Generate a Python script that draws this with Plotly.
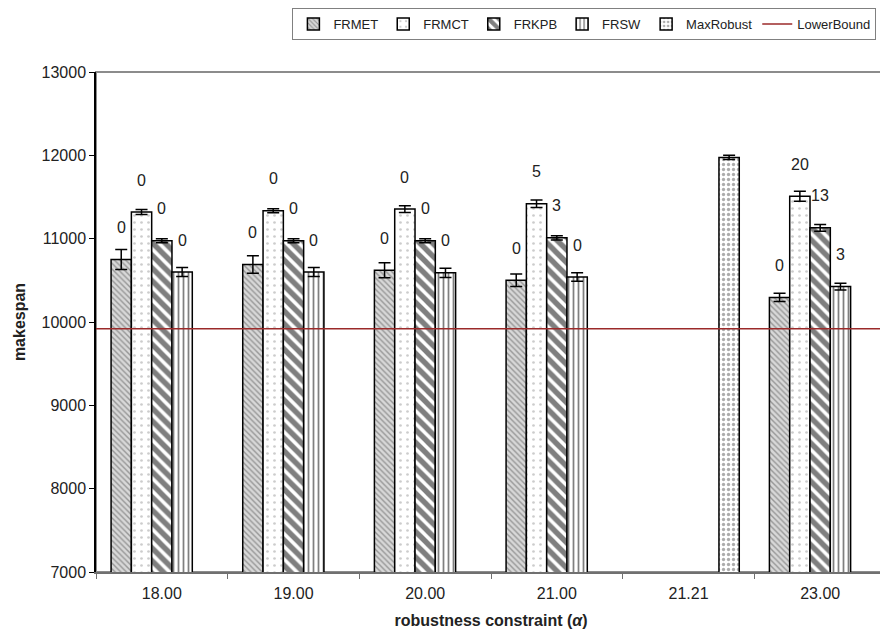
import plotly.graph_objects as go

categories = ["18.00", "19.00", "20.00", "21.00", "21.21", "23.00"]

frmet = [10750, 10690, 10620, 10500, None, 10295]
frmet_err = [120, 105, 90, 75, None, 50]
frmct = [11320, 11335, 11355, 11420, None, 11510]
frmct_err = [30, 25, 40, 45, None, 60]
frkpb = [10975, 10975, 10975, 11010, None, 11130]
frkpb_err = [25, 25, 25, 25, None, 40]
frsw = [10600, 10600, 10590, 10540, None, 10425]
frsw_err = [55, 55, 55, 50, None, 40]
maxrobust = [None, None, None, None, 11975, None]
maxrobust_err = [None, None, None, None, 25, None]

lower_bound = 9920

frmet_labels = ["0", "0", "0", "0", None, "0"]
frmct_labels = ["0", "0", "0", "5", None, "20"]
frkpb_labels = ["0", "0", "0", "3", None, "13"]
frsw_labels = ["0", "0", "0", "0", None, "3"]

FONT = "Liberation Sans, Arial, sans-serif"
BARGAP = 0.229

series = [
    ("FRMET", frmet, frmet_err, frmet_labels,
     dict(shape="\\", fgcolor="#555555", bgcolor="#d8d8d8", size=4, solidity=0.35)),
    ("FRMCT", frmct, frmct_err, frmct_labels,
     dict(shape=".", fgcolor="#9a9a9a", bgcolor="white", size=7, solidity=0.12)),
    ("FRKPB", frkpb, frkpb_err, frkpb_labels,
     dict(shape="\\", fgcolor="black", bgcolor="white", size=9, solidity=0.6)),
    ("FRSW", frsw, frsw_err, frsw_labels,
     dict(shape="|", fgcolor="black", bgcolor="white", size=5, solidity=0.35)),
    ("MaxRobust", maxrobust, maxrobust_err, None,
     dict(shape=".", fgcolor="#5a5a5a", bgcolor="white", size=5, solidity=0.35)),
]

fig = go.Figure()
for name, vals, errs, _, pat in series:
    fig.add_trace(go.Bar(
        name=name, x=categories, y=vals,
        marker=dict(color="white", pattern=pat,
                    line=dict(color="black", width=1.5)),
        error_y=dict(type="data", array=errs, visible=True,
                     color="black", thickness=1.5, width=6),
    ))

fig.add_trace(go.Scatter(
    name="LowerBound", x=[0, 1], y=[lower_bound, lower_bound],
    xaxis="x2", mode="lines", line=dict(color="#9b2a2a", width=1.5),
))

n = len(series)
slot = (1 - BARGAP) / n
annotations = []
for k, (name, vals, errs, labels, _) in enumerate(series):
    if labels is None:
        continue
    for i, (v, lab) in enumerate(zip(vals, labels)):
        if v is None or lab is None:
            continue
        xpos = i - (1 - BARGAP) / 2 + (k + 0.5) * slot
        annotations.append(dict(
            x=xpos, y=v, xref="x", yref="y", text=lab, showarrow=False,
            yshift=32, yanchor="middle",
            font=dict(family=FONT, size=16, color="#222222"),
        ))

fig.update_layout(
    width=880, height=630,
    margin=dict(l=88, r=2, t=64, b=66, autoexpand=False),
    plot_bgcolor="white", paper_bgcolor="white",
    barmode="group", bargap=BARGAP, bargroupgap=0,
    font=dict(family=FONT, size=16, color="#222222"),
    annotations=annotations,
    legend=dict(orientation="h", xref="container", yref="container",
                x=0.655, xanchor="center", y=1.0, yanchor="top",
                bordercolor="#808080", borderwidth=1,
                font=dict(family=FONT, size=13, color="#222222"),
                bgcolor="white", traceorder="normal"),
    xaxis=dict(type="category", showline=True, linecolor="#707070",
               linewidth=1.5, ticks="outside", ticklen=5, tickcolor="#707070",
               tickson="boundaries", showgrid=False, automargin=False,
               tickfont=dict(size=16), ticklabelstandoff=6,
               title=dict(text="<b>robustness constraint (<i>α</i>)</b>",
                          font=dict(size=16), standoff=14)),
    xaxis2=dict(overlaying="x", range=[0, 1], visible=False),
    yaxis=dict(range=[7000, 13000], dtick=1000, tickformat="d",
               showline=True, automargin=False,
               linecolor="black", linewidth=1.5, ticks="outside", ticklen=5,
               tickcolor="black", showgrid=False, zeroline=False,
               tickfont=dict(size=16),
               title=dict(text="<b>makespan</b>", font=dict(size=16),
                          standoff=12)),
    shapes=[dict(type="rect", xref="paper", yref="paper", x0=0, x1=1,
                 y0=0, y1=1, line=dict(color="#8c8c8c", width=2),
                 layer="below")],
)

fig.write_html("out.html")
